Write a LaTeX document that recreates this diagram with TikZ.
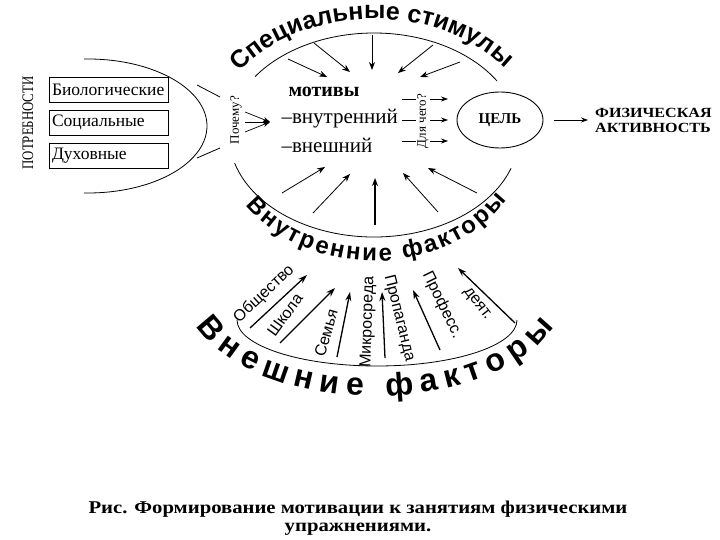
\documentclass[tikz,border=0pt]{standalone}
\usepackage{fontspec}
\setmainfont{Liberation Serif}
\setsansfont{Liberation Sans}
\usetikzlibrary{arrows.meta, decorations.text, shapes.geometric}

\begin{document}
\begin{tikzpicture}[
    x=1pt, y=1pt,
    >={Stealth[length=7pt, width=5pt]},
    needbox/.style={draw, line width=0.9pt, minimum height=25pt, text width=113pt,
        inner xsep=3pt, inner ysep=0pt, align=left, font=\fontsize{17.5}{19}\selectfont},
    stim/.style={-{Stealth[length=8pt, width=6pt]}, line width=0.8pt},
    factor/.style={-{Stealth[length=9pt, width=6pt]}, line width=1.3pt},
    flabel/.style={font=\sffamily\fontsize{16}{18}\selectfont, inner sep=1pt},
    ask/.style={rotate=90, fill=white, inner sep=1pt, font=\fontsize{13}{15}\selectfont},
    motive/.style={anchor=west, font=\fontsize{21}{23}\selectfont}
]
    % --- рамка ---
    \useasboundingbox (0,0) rectangle (720,-540);
    \coordinate (core) at (374,-135);
    \coordinate (fan) at (377,-320);

    % --- подпись ---
    \node[align=center, xscale=1.15, font=\rmfamily\bfseries\fontsize{18}{18}\selectfont] (caption) at (358,-518)
        {Рис. Формирование мотивации к занятиям физическими\\упражнениями.};

    % --- потребности ---
    \node[rotate=90, xscale=0.8, font=\fontsize{16}{18}\selectfont] (needs) at (28,-123) {ПОТРЕБНОСТИ};
    \node[needbox] (bio) at (108.5,-89.5) {Биологические};
    \node[needbox] (soc) at (108.5,-122.5) {Социальные};
    \node[needbox] (spir) at (108.5,-155.5) {Духовные};

    % --- почему? ---
    \draw[line width=0.8pt] (88,-126) ++(92:119 and 67)
        arc[start angle=92, end angle=-92, x radius=119, y radius=67];
    \draw[line width=0.8pt] (197,-85) -- (220,-97);
    \draw[line width=0.8pt] (197,-158) -- (220,-148);
    \node[ask] (why) at (236,-120) {Почему?};
    \foreach \y in {-112,-122,-132}
        \draw[->, line width=0.7pt] (245,\y) -- (270,-122);

    % --- мотивы ---
    \node[motive, font=\bfseries\fontsize{20}{22}\selectfont] (motives) at (285,-92) {мотивы};
    \node[motive] (inner) at (278,-119) {–внутренний};
    \node[motive] (outer) at (278,-145) {–внешний};

    % --- для чего? ---
    \foreach \y in {-99,-120,-141}
        \draw[->, line width=0.7pt] (402,\y) -- (448,\y);
    \node[ask] (whatfor) at (423,-121) {Для чего?};

    % --- цель ---
    \node[draw, ellipse, minimum width=86pt, minimum height=56pt, line width=0.9pt,
        font=\bfseries\fontsize{15}{17}\selectfont] (goal) at (500,-120) {ЦЕЛЬ};
    \node[anchor=west, align=left, xscale=1.15, inner sep=0pt,
        font=\bfseries\fontsize{14}{15}\selectfont] (activity) at (595,-120) {ФИЗИЧЕСКАЯ\\АКТИВНОСТЬ};
    \draw[->, line width=0.8pt, shorten <=11pt, shorten >=7pt] (goal) -- (activity);

    % --- специальные стимулы ---
    \draw[line width=0.8pt] (core) ++(145:145 and 102)
        arc[start angle=145, end angle=32, x radius=145, y radius=102];
    \path (core) ++(147:160 and 116) coordinate (stimstart);
    \path[decorate, decoration={text along path, text align={fit to path},
        text={|\sffamily\bfseries\fontsize{25}{27}\selectfont|Специальные стимулы}}]
        (stimstart) arc[start angle=147, end angle=35, x radius=160, y radius=116];
    \foreach \xa/\ya/\xb/\yb in {288/59/327/77, 314/43/350/72, 372/35/372/70, 433/45/398/73, 460/62/420/77}
        \draw[stim] (\xa,-\ya) -- (\xb,-\yb);

    % --- внутренние факторы ---
    \draw[line width=0.8pt] (core) ++(196:145 and 102)
        arc[start angle=196, end angle=341, x radius=145, y radius=102];
    \path (core) ++(214:155 and 126) coordinate (innstart);
    \path[decorate, decoration={text along path, text align={fit to path},
        text={|\sffamily\bfseries\fontsize{24}{26}\selectfont|Внутренние факторы}}]
        (innstart) arc[start angle=214, end angle=329, x radius=155, y radius=126];
    \foreach \xa/\ya/\xb/\yb in {282/193/325/167, 313/213/350/174, 438/212/403/173, 477/193/428/168}
        \draw[stim] (\xa,-\ya) -- (\xb,-\yb);
    \draw[stim, line width=1.3pt] (375,-225) -- (375,-178);

    % --- внешние факторы ---
    \draw[line width=0.8pt] (fan) ++(180:140 and 46)
        arc[start angle=180, end angle=360, x radius=140, y radius=46];
    \foreach \xa/\ya/\xb/\yb in {250/328/307/275, 280/343/335/288, 337/357/350/292,
                                 385/358/382/292, 440/350/413/290, 515/323/458/268}
        \draw[factor] (\xa,-\ya) -- (\xb,-\yb);
    \node[flabel, rotate=43] (society) at (264,-294) {Общество};
    \node[flabel, rotate=54] (school) at (285,-315) {Школа};
    \node[flabel, rotate=74] (family) at (326,-333) {Семья};
    \node[flabel, rotate=88] (micro) at (368,-322) {Микросреда};
    \node[flabel, rotate=-76] (propag) at (399,-318) {Пропаганда};
    \node[flabel, rotate=-64] (prof) at (442,-305) {Професс.};
    \node[flabel, rotate=-52] (activ) at (477,-304) {деят.};
    \path (375,-290) ++(200:190 and 106) coordinate (extstart);
    \path[decorate, decoration={text along path, text align={fit to path},
        text={|\sffamily\bfseries\fontsize{32}{34}\selectfont|Внешние факторы}}]
        (extstart) arc[start angle=200, end angle=340, x radius=190, y radius=106];
\end{tikzpicture}
\end{document}
